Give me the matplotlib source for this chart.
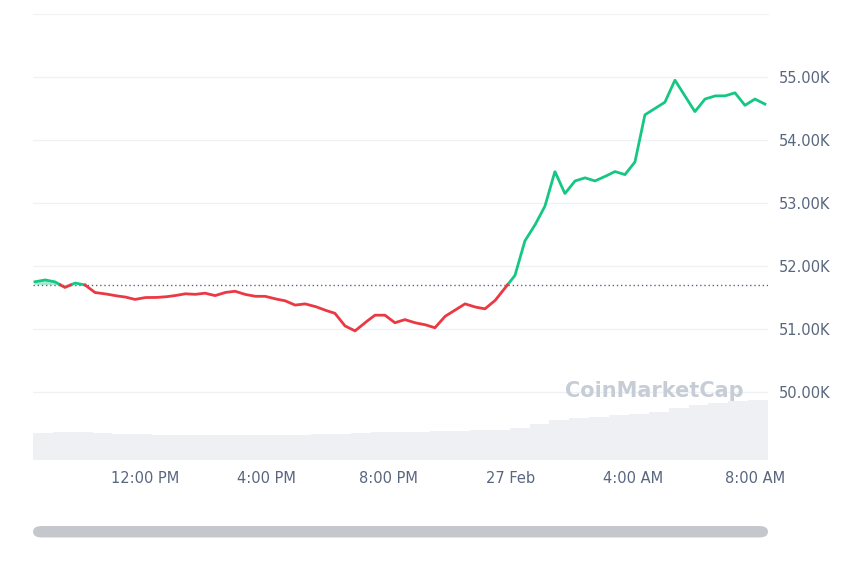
import numpy as np
import matplotlib
matplotlib.use("Agg")
import matplotlib.pyplot as plt
from matplotlib.patches import FancyBboxPatch

# price (thousands USD), sampled every ~19.7 min starting 26 Feb ~08:24
t0, dt = 8.393, 0.3279
prices = [51.75,51.78,51.75,51.66,51.73,51.70,51.58,51.56,51.53,51.51,51.47,51.50,51.50,51.51,51.53,
          51.56,51.55,51.57,51.53,51.58,51.60,51.55,51.52,51.52,51.48,51.45,51.38,51.40,51.36,51.30,
          51.25,51.05,50.97,51.10,51.22,51.22,51.10,51.15,51.10,51.07,51.02,51.20,51.30,51.40,51.35,
          51.32,51.45,51.65,51.85,52.40,52.65,52.95,53.50,53.15,53.35,53.40,53.35,53.42,53.50,53.45,
          53.65,54.40,54.50,54.60,54.95,54.70,54.45,54.65,54.70,54.70,54.75,54.55,54.65,54.57]
baseline = 51.70
# relative volume (arbitrary units)
volume = [27,28,28,27,26,26,25,25,25,25,25,25,25,25,26,26,27,28,28,28,29,29,30,30,32,36,
          40,42,43,45,46,48,52,55,57,59,60]
ticks_y = [50, 51, 52, 53, 54, 55]
ticks_x = [12, 16, 20, 24, 28, 32]
xlabels = ["12:00 PM", "4:00 PM", "8:00 PM", "27 Feb", "4:00 AM", "8:00 AM"]

t = t0 + dt*np.arange(len(prices))
p = np.array(prices)

fig = plt.figure(figsize=(8.6, 5.73), dpi=100)
ax = fig.add_axes([0.0384, 0.197, 0.8546, 0.7786])
ymin, ymax = 48.92, 56.0
xmin, xmax = 8.33, 32.43

vax = ax.twinx()
vt = np.linspace(xmin, xmax, len(volume)+1)[:-1]
vax.bar(vt, volume, width=(vt[1]-vt[0]), color="#eef0f4", align="edge", lw=0)
vax.set_ylim(0, 446)
vax.axis("off")
vax.set_zorder(0)
ax.set_zorder(1); ax.patch.set_visible(False)

tf = np.linspace(t[0], t[-1], 3000)
pf = np.interp(tf, t, p)
up = pf >= baseline
# gradient fills
for mask, rgb, top, bot in [(up, (0.086, 0.78, 0.52), p.max(), baseline),
                            (~up, (0.92, 0.22, 0.26), baseline, p.min())]:
    poly = ax.fill_between(tf, baseline, pf, where=mask, color="none", lw=0, interpolate=True)
    grad = np.zeros((256, 1, 4)); grad[..., :3] = rgb
    if top > baseline:
        grad[:, 0, 3] = np.linspace(0.38, 0.05, 256)
    else:
        grad[:, 0, 3] = np.linspace(0.12, 0.35, 256)
    im = ax.imshow(grad, extent=[xmin, xmax, bot, top], origin="lower", aspect="auto", zorder=1)
    im.set_clip_path(poly.get_paths()[0], transform=ax.transData)
ax.plot(tf, np.where(up, pf, np.nan), color="#16c784", lw=2, zorder=3)
ax.plot(tf, np.where(~up, pf, np.nan), color="#ea3943", lw=2, zorder=3)
ax.axhline(baseline, color="#58667e", lw=1, ls=(0, (1, 2)), zorder=2)

ax.set_xlim(xmin, xmax); ax.set_ylim(ymin, ymax)
ax.set_yticks(ticks_y)
ax.set_yticklabels([f"{v:.2f}K" for v in ticks_y])
ax.yaxis.tick_right()
ax.set_xticks(ticks_x); ax.set_xticklabels(xlabels)
ax.tick_params(length=0, labelsize=10.5, colors="#58667e", pad=8)
ax.grid(axis="y", color="#eff2f5", lw=1)
for s in ["left", "right", "bottom"]:
    ax.spines[s].set_visible(False)
ax.spines["top"].set_color("#eff2f5")

ax.text(0.845, 0.155, "CoinMarketCap", transform=ax.transAxes, fontsize=15,
        color="#c7cdd6", ha="center", va="center", fontweight="bold", zorder=2)

fig.patches.append(FancyBboxPatch((0.0384, 0.062), 0.8546, 0.02, boxstyle="round,pad=0,rounding_size=0.01",
                                  transform=fig.transFigure, color="#c4c7cb", lw=0))
fig.savefig("out.png", dpi=100)
